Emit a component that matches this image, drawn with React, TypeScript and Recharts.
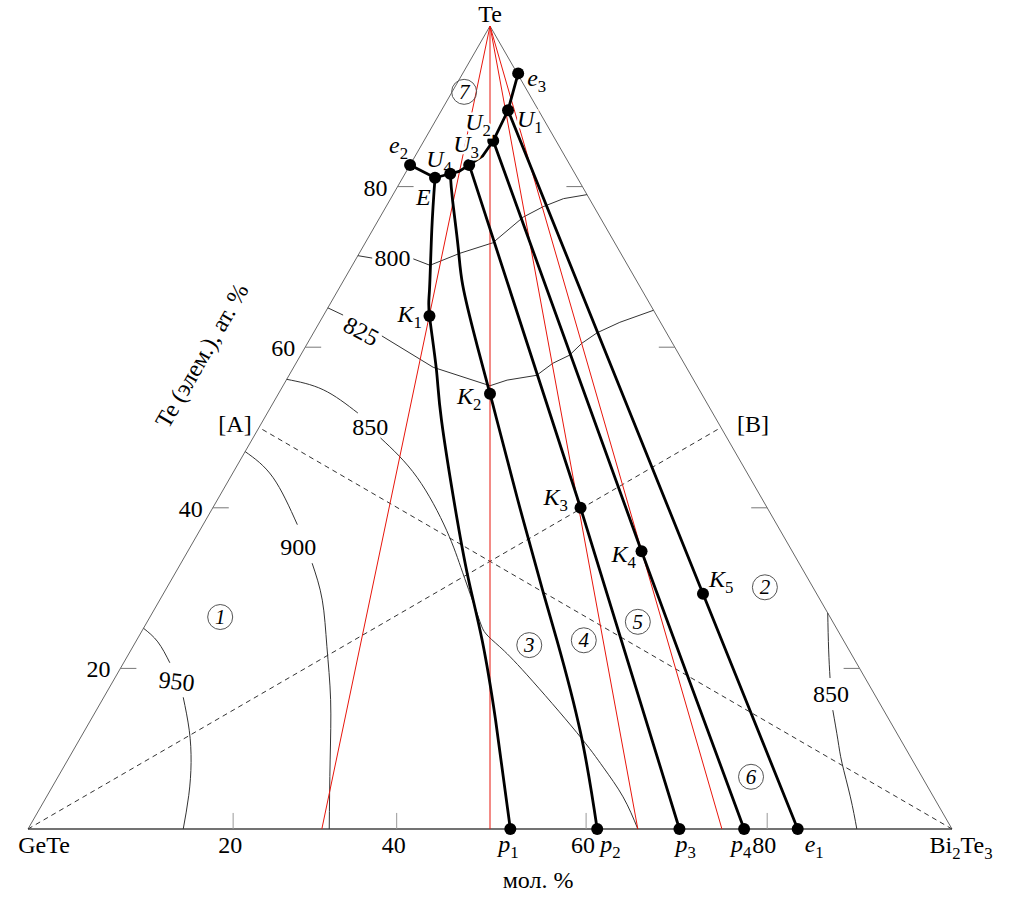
'use client'
/* eslint-disable */

import React from 'react'
import { ComposedChart, Line, XAxis, YAxis, ReferenceDot } from 'recharts'

// composition points: [mol. % Bi2Te3 on the GeTe–Bi2Te3 side, at. % Te]
type P = [number, number]

// invariant points
const e3: P = [6.0, 94.1]
const U1: P = [7.2, 89.5]
const U2: P = [7.5, 85.7]
const U3: P = [6.4, 82.7]
const U4: P = [4.9, 81.6]
const E: P = [3.5, 81.1]
const e2: P = [0, 82.7]
const K1: P = [11.5, 63.9]
const K2: P = [22.9, 54.2]
const K3: P = [39.8, 40.0]
const K4: P = [49.1, 34.6]
const K5: P = [58.4, 29.3]
const p1: P = [52.2, 0]
const p2: P = [61.6, 0]
const p3: P = [70.5, 0]
const p4: P = [77.5, 0]
const e1: P = [83.3, 0]

// boundary curves (monovariant lines)
const valleyTop: P[] = [e3, U1, U2, [7.3, 83.8], U3, [5.7, 81.9], U4, E]
const valleyE2: P[] = [e2, E]
const curveE: P[] = [E, [6.4, 74.6], [9.9, 67.1], K1, [15.6, 57.2], [19.3, 50.9], [27.2, 38.5], [32.6, 30.4], [37.4, 23.5], [43.8, 13.6], p1]
const curveU4: P[] = [U4, [6.8, 78.3], [10.3, 72.5], [13.2, 67.7], [18.0, 60.9], K2, [25.3, 50.9], [32.5, 41.0], [41.0, 29.5], [45.5, 23.5], [53.8, 12.0], p2]
const curveU3: P[] = [U3, K3, p3]
const curveU2: P[] = [U2, K4, p4]
const curveU1: P[] = [U1, K5, e1]

// Te – compound joins (base ends, mol. % Bi2Te3)
const joinEnds = [31.8, 50, 66.0, 75.1]

// isotherms, each split where the temperature label sits
const iso950: P[][] = [
  [[0, 25.0], [2.4, 23.3], [5.0, 20.7]],
  [[8.6, 16.4], [11.3, 12.3], [13.5, 8.3], [15.3, 4.2], [16.8, 0]],
]
const iso900: P[][] = [
  [[0, 47.0], [4.6, 43.8], [10.2, 37.9]],
  [[14.2, 33.1], [17.6, 28.5], [21.0, 22.7], [24.7, 16.1], [28.4, 8.6], [32.6, 0]],
]
const iso850a: P[][] = [
  [[0, 56.0], [4.6, 54.7], [9.8, 51.8]],
  [[13.8, 48.7], [20.2, 43.8], [26.7, 37.2], [31.1, 31.9], [35.3, 26.7], [37.3, 24.4], [39.7, 22.7], [44.4, 19.2], [53.4, 12.0], [58.4, 7.7], [62.4, 4.0], [66.0, 0]],
]
const iso850b: P[][] = [
  [[73.1, 26.9], [75.5, 22.3], [77.4, 18.8]],
  [[79.7, 14.8], [82.1, 11.1], [84.0, 8.2], [87.0, 4.0], [89.7, 0]],
]
const iso825: P[][] = [
  [[0, 64.9], [2.1, 64.0]],
  [[7.6, 61.4], [15.1, 57.5], [22.4, 55.2], [23.9, 55.9], [26.8, 56.5], [27.8, 58.0], [29.1, 59.0], [29.7, 60.5], [30.7, 61.8], [32.5, 63.1], [35.4, 64.6]],
]
const iso800: P[][] = [
  [[0, 71.4], [1.7, 71.1]],
  [[6.2, 71.0], [8.4, 70.2], [10.9, 71.7], [13.8, 73.0], [15.5, 76.2], [17.0, 77.5], [18.7, 78.5], [21.0, 79.0]],
]

// sections [A] and [B]
const sectionA: P[] = [[100, 0], [0, 50]]
const sectionB: P[] = [[0, 0], [50, 50]]

// axis ticks
const sideTicks = [20, 40, 60, 80]
const baseTickLabels = ['20', '40', '60', '80']
const baseTickPos = [22.2, 39.9, 60.4, 80.0]

// temperature labels: [text, mol. % Bi2Te3, at. % Te]
const isoLabels: [string, number, number][] = [
  ['950', 7.3, 17.4],
  ['900', 12.2, 34.1],
  ['850', 12.5, 49.1],
  ['825', 5.1, 61.1],
  ['800', 4.4, 70.1],
  ['850', 79.0, 15.8],
]

// phase fields
const fieldLabels: [string, number, number][] = [
  ['1', 7.6, 26.4],
  ['2', 64.7, 30.1],
  ['3', 42.8, 22.9],
  ['4', 48.4, 23.5],
  ['5', 53.1, 25.8],
  ['6', 75.0, 6.5],
  ['7', 1.3, 91.8],
]

const toXY = (pts: P[]) => pts.map(([b, c]) => ({ x: b + c / 2, y: c }))
const xy = ([b, c]: P) => ({ x: b + c / 2, y: c })

const SERIF = '"Liberation Serif", "Times New Roman", serif'

const RichText = ({ x, y, text, size = 24, italic = false, anchor = 'start', rotate = 0, halo = false }: any) => {
  // '_' marks the following character as a subscript
  const parts: { t: string; sub: boolean }[] = []
  for (let i = 0; i < text.length; i++) {
    if (text[i] === '_') {
      parts.push({ t: text[i + 1], sub: true })
      i++
    } else if (parts.length && !parts[parts.length - 1].sub) parts[parts.length - 1].t += text[i]
    else parts.push({ t: text[i], sub: false })
  }
  let prevSub = false
  return (
    <text
      x={x}
      y={y}
      textAnchor={anchor}
      fontFamily={SERIF}
      fontSize={size}
      fill="#000"
      transform={rotate ? `rotate(${rotate} ${x} ${y})` : undefined}
      stroke={halo ? '#fff' : 'none'}
      strokeWidth={halo ? 5 : 0}
      paintOrder="stroke"
    >
      {parts.map((p, i) => {
        const dy = p.sub === prevSub ? 0 : p.sub ? 6 : -6
        prevSub = p.sub
        return (
          <tspan key={i} dy={dy} fontSize={p.sub ? size * 0.7 : size} fontStyle={italic && !p.sub ? 'italic' : 'normal'}>
            {p.t}
          </tspan>
        )
      })}
    </text>
  )
}

const pointLabels: { at: P; text: string; dx: number; dy: number; halo?: boolean }[] = [
  { at: e3, text: 'e_3', dx: 9, dy: 13 },
  { at: U1, text: 'U_1', dx: 9, dy: 17, halo: true },
  { at: U2, text: 'U_2', dx: -28, dy: -11, halo: true },
  { at: U3, text: 'U_3', dx: -16, dy: -13, halo: true },
  { at: U4, text: 'U_4', dx: -24, dy: -7 },
  { at: E, text: 'E', dx: -19, dy: 27 },
  { at: e2, text: 'e_2', dx: -21, dy: -12 },
  { at: K1, text: 'K_1', dx: -32, dy: 6 },
  { at: K2, text: 'K_2', dx: -33, dy: 10 },
  { at: K3, text: 'K_3', dx: -37, dy: -3 },
  { at: K4, text: 'K_4', dx: -30, dy: 11 },
  { at: K5, text: 'K_5', dx: 6, dy: -7 },
  { at: p1, text: 'p_1', dx: -12, dy: 23 },
  { at: p2, text: 'p_2', dx: 3, dy: 23 },
  { at: p3, text: 'p_3', dx: -4, dy: 23 },
  { at: p4, text: 'p_4', dx: -13, dy: 23 },
  { at: e1, text: 'e_1', dx: 7, dy: 23 },
]

const dots = [e3, U1, U2, U3, U4, E, e2, K1, K2, K3, K4, K5, p1, p2, p3, p4, e1]

type Poly = { pts: P[]; stroke: string; w: number; dash?: string; curve?: 'linear' | 'natural' }

const polys: Poly[] = [
  // triangle
  { pts: [[0, 0], [0, 100]], stroke: '#666', w: 1 },
  { pts: [[100, 0], [0, 100]], stroke: '#666', w: 1 },
  { pts: [[0, 0], [100, 0]], stroke: '#444', w: 1.6 },
  // ticks
  ...sideTicks.map((c) => ({ pts: [[0, c], [1.73, c]] as P[], stroke: '#777', w: 1 })),
  ...sideTicks.map((c) => ({ pts: [[100 - c, c], [100 - c - 1.73, c]] as P[], stroke: '#777', w: 1 })),
  ...baseTickPos.map((b) => ({ pts: [[b, 0], [b - 1, 2]] as P[], stroke: '#999', w: 1 })),
  // sections
  { pts: sectionA, stroke: '#333', w: 1, dash: '5 4' },
  { pts: sectionB, stroke: '#333', w: 1, dash: '5 4' },
  // isotherms
  ...[...iso950, ...iso900, ...iso850a, ...iso850b].map((pts) => ({ pts, stroke: '#333', w: 1, curve: 'natural' as const })),
  ...[...iso825, ...iso800].map((pts) => ({ pts, stroke: '#333', w: 1 })),
  // joins to Te
  ...joinEnds.map((b) => ({ pts: [[0, 100], [b, 0]] as P[], stroke: '#e8160c', w: 1 })),
  // boundary lines
  { pts: valleyTop, stroke: '#000', w: 2.8 },
  { pts: valleyE2, stroke: '#000', w: 2.8 },
  { pts: curveE, stroke: '#000', w: 2.8, curve: 'natural' },
  { pts: curveU4, stroke: '#000', w: 2.8, curve: 'natural' },
  { pts: curveU3, stroke: '#000', w: 2.8 },
  { pts: curveU2, stroke: '#000', w: 2.8 },
  { pts: curveU1, stroke: '#000', w: 2.8 },
]

const Circled = ({ cx, cy, n }: any) => (
  <g>
    <circle cx={cx} cy={cy} r={12.5} fill="none" stroke="#555" strokeWidth={1} />
    <text x={cx} y={cy + 7} textAnchor="middle" fontFamily={SERIF} fontStyle="italic" fontSize={21} fill="#000">
      {n}
    </text>
  </g>
)

const App = () => {
  return (
    <div style={{ position: 'absolute', left: 0, top: 0, width: 1020, height: 902 }}>
      <ComposedChart width={1020} height={902} margin={{ top: 26, right: 68, bottom: 73, left: 28 }}>
        <XAxis type="number" dataKey="x" domain={[0, 100]} hide />
        <YAxis type="number" dataKey="y" domain={[0, 100]} hide />

        {polys.map((p, i) => (
          <Line
            key={'l' + i}
            data={toXY(p.pts)}
            dataKey="y"
            type={p.curve || 'linear'}
            stroke={p.stroke}
            strokeWidth={p.w}
            strokeDasharray={p.dash}
            dot={false}
            activeDot={false}
            legendType="none"
            isAnimationActive={false}
          />
        ))}

        {dots.map((d, i) => (
          <ReferenceDot key={'d' + i} {...xy(d)} r={6} fill="#000" stroke="none" ifOverflow="visible" />
        ))}

        {pointLabels.map((l, i) => (
          <ReferenceDot
            key={'pl' + i}
            {...xy(l.at)}
            r={0}
            ifOverflow="visible"
            shape={(s: any) => <RichText x={s.cx + l.dx} y={s.cy + l.dy} text={l.text} italic halo={l.halo} />}
          />
        ))}

        {fieldLabels.map(([n, b, c], i) => (
          <ReferenceDot key={'f' + i} {...xy([b, c])} r={0} ifOverflow="visible" shape={(s: any) => <Circled cx={s.cx} cy={s.cy} n={n} />} />
        ))}

        {isoLabels.map(([t, b, c], i) => (
          <ReferenceDot
            key={'il' + i}
            {...xy([b, c])}
            r={0}
            ifOverflow="visible"
            shape={(s: any) => <RichText x={s.cx} y={s.cy} text={t} anchor="middle" rotate={t === '825' ? 28 : t === '950' ? 6 : 0} />}
          />
        ))}

        {sideTicks.map((c, i) => (
          <ReferenceDot
            key={'st' + i}
            {...xy([0, c])}
            r={0}
            ifOverflow="visible"
            shape={(s: any) => <RichText x={s.cx - 22} y={s.cy + 9} text={String(c)} anchor="middle" />}
          />
        ))}

        {baseTickPos.map((b, i) => (
          <ReferenceDot
            key={'bt' + i}
            x={b}
            y={0}
            r={0}
            ifOverflow="visible"
            shape={(s: any) => <RichText x={s.cx - 3} y={s.cy + 24} text={baseTickLabels[i]} anchor="middle" />}
          />
        ))}

        <ReferenceDot x={0} y={0} r={0} ifOverflow="visible" shape={(s: any) => <RichText x={s.cx + 16} y={s.cy + 24} text="GeTe" anchor="middle" />} />
        <ReferenceDot x={100} y={0} r={0} ifOverflow="visible" shape={(s: any) => <RichText x={s.cx + 9} y={s.cy + 24} text="Bi_2Te_3" anchor="middle" />} />
        <ReferenceDot x={50} y={100} r={0} ifOverflow="visible" shape={(s: any) => <RichText x={s.cx} y={s.cy - 4} text="Te" anchor="middle" />} />
        <ReferenceDot x={55.2} y={0} r={0} ifOverflow="visible" shape={(s: any) => <RichText x={s.cx} y={s.cy + 59} text="мол. %" anchor="middle" />} />
        <ReferenceDot {...xy([0, 50])} r={0} ifOverflow="visible" shape={(s: any) => <RichText x={s.cx - 24} y={s.cy + 4} text="[A]" anchor="middle" />} />
        <ReferenceDot {...xy([50, 50])} r={0} ifOverflow="visible" shape={(s: any) => <RichText x={s.cx + 32} y={s.cy + 4} text="[B]" anchor="middle" />} />
        <ReferenceDot
          {...xy([0, 59.7])}
          r={0}
          ifOverflow="visible"
          shape={(s: any) => <RichText x={s.cx - 95} y={s.cy + 10} text="Te (элем.), ат. %" anchor="middle" rotate={-60} />}
        />
      </ComposedChart>
    </div>
  )
}

export default App
